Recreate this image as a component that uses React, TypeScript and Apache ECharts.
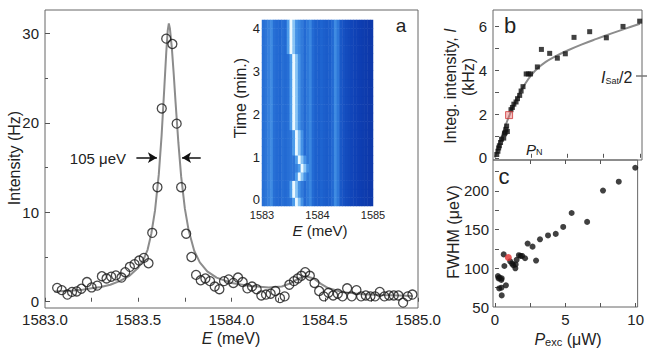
import React, { useEffect, useRef } from "react";
import * as echarts from "echarts";

const FONT = '"Liberation Sans", Arial, Helvetica, sans-serif';

// ---- Panel a: PL spectrum ----
const spectrumEnergy = [1583.065,1583.09,1583.12,1583.145,1583.17,1583.195,1583.225,1583.25,1583.28,1583.305,1583.33,1583.355,1583.38,1583.41,1583.43,1583.455,1583.48,1583.505,1583.53,1583.555,1583.575,1583.603,1583.626,1583.65,1583.683,1583.706,1583.73,1583.757,1583.785,1583.81,1583.835,1583.86,1583.885,1583.91,1583.935,1583.96,1583.985,1584.01,1584.035,1584.06,1584.085,1584.11,1584.135,1584.16,1584.185,1584.21,1584.235,1584.26,1584.285,1584.31,1584.335,1584.355,1584.375,1584.395,1584.42,1584.445,1584.47,1584.495,1584.52,1584.545,1584.57,1584.595,1584.62,1584.645,1584.67,1584.695,1584.72,1584.745,1584.77,1584.795,1584.82,1584.845,1584.87,1584.895,1584.92,1584.945,1584.97];
const spectrumIntensity = [1.55,1.3,0.8,1.1,1.15,1.45,2.2,1.6,1.8,2.85,2.6,2.8,2.95,2.7,3.3,3.9,4.2,4.6,4.9,4.3,7.7,12.8,21.6,29.4,28.8,19.9,12.8,7.6,5.0,3.0,2.4,2.6,2.3,1.7,1.4,2.3,2.5,2.1,2.7,2.2,1.5,1.7,1.4,0.7,0.8,0.9,1.2,0.4,0.6,1.9,2.3,2.6,2.9,3.3,2.9,2.1,1.2,0.6,1.0,0.7,0.9,0.6,1.5,0.6,1.3,0.6,0.7,0.6,0.6,1.1,0.6,0.7,0.7,0.7,-0.1,0.6,0.8];
const fitEnergy = [1583.05,1583.1,1583.15,1583.2,1583.25,1583.3,1583.35,1583.4,1583.45,1583.5,1583.53,1583.55,1583.57,1583.59,1583.61,1583.625,1583.64,1583.65,1583.658,1583.664,1583.67,1583.68,1583.69,1583.7,1583.715,1583.73,1583.75,1583.77,1583.8,1583.83,1583.87,1583.92,1584.0,1584.1,1584.2,1584.27,1584.32,1584.36,1584.4,1584.44,1584.48,1584.52,1584.6,1584.7,1584.8,1584.9,1584.97];
const fitIntensity = [1.15,1.2,1.25,1.35,1.5,1.65,1.9,2.3,2.85,3.8,4.8,5.8,7.6,10.2,14.2,18.5,24,27.8,30.3,31.1,30.5,28.4,25.5,22.3,17.8,14.0,10.4,8.0,5.7,4.4,3.4,2.7,2.1,1.75,1.6,1.7,2.1,2.6,2.85,2.6,2.0,1.5,1.05,0.85,0.75,0.7,0.65];
const fwhmArrowLeft = [1583.49, 1583.60];
const fwhmArrowRight = [1583.835, 1583.735];
const fwhmArrowLevel = 16.1;
const aXTicks = [1583,1583.25,1583.5,1583.75,1584,1584.25,1584.5,1584.75,1585];
const aXLabels = [1583,1583.5,1584,1584.5,1585];
const aYLabels = [0,10,20,30];
const aYMinor = [5,15,25];

// ---- Inset: time trace map ----
const heatColumnLevel = [0.44,0.46,0.5,0.54,0.44,0.42,0.41,0.44,0.42,0.44,0.46,0.46,0.5,0.52,0.48,0.42,0.47,0.52,0.42,0.38,0.37,0.4,0.37,0.35,0.37,0.42,0.54,0.47,0.33,0.29,0.26,0.24,0.22,0.2,0.18,0.16,0.14,0.12,0.1,0.1];
const heatLinePos = [1583.61,1583.6,1583.57,1583.66,1583.7,1583.66,1583.64,1583.62,1583.62,1583.6,1583.6,1583.58,1583.58,1583.58,1583.57,1583.59,1583.56,1583.56,1583.55,1583.55,1583.54,1583.54];
const heatEStart = 1583, heatEStep = 0.05;
const insetXLabels = [1583,1584,1585];
const insetYLabels = [0,1,2,3,4];

// ---- Panel b: integrated intensity ----
const powerB = [0.12,0.2,0.25,0.3,0.38,0.45,0.6,0.65,0.7,0.75,0.8,0.85,1.1,1.2,1.3,1.45,1.55,1.7,1.8,1.93,2.15,2.3,2.45,2.92,3.2,3.77,4.3,4.85,5.45,6.53,7.68,8.83,9.98];
const intensityB = [0.15,0.3,0.45,0.55,0.7,0.85,0.9,1.1,1.15,1.3,1.45,1.2,2.2,2.3,2.45,2.55,2.7,2.85,3.05,3.25,3.83,3.83,3.83,4.15,4.95,4.77,4.55,4.75,5.5,5.76,5.48,6.0,6.24];
const fitPowerB = [0,0.25,0.5,0.75,1,1.5,2,2.5,3,3.5,4,5,6,7,8,9,10];
const fitIntensityB = [0,0.55,1.05,1.52,1.95,2.7,3.3,3.78,4.12,4.38,4.58,4.9,5.18,5.43,5.67,5.9,6.12];
const highlightB = [0.97, 1.95];

// ---- Panel c: FWHM ----
const powerC = [0.21,0.25,0.3,0.32,0.45,0.46,0.48,0.48,0.62,0.67,0.78,1.08,1.22,1.3,1.45,1.47,1.54,1.7,1.82,1.93,2.14,2.32,2.67,2.92,3.2,3.77,4.32,4.85,5.45,6.55,7.68,8.8,9.97];
const fwhmC = [90,87,74,88,85,75,65,87,118,103,78,109,106,104,100,105,111,117,116,116,113,132,128,110,137.5,142.5,144.5,153.5,171.5,160,200.5,212,230];
const highlightC = [0.95, 114];

const zip = (a: number[], b: number[]) => a.slice(0, Math.min(a.length, b.length)).map((v, i) => [v, b[i]]);

const heatData: number[][] = [];
heatLinePos.forEach((pos, r) => {
  const lineCol = Math.floor((pos - heatEStart) / heatEStep);
  heatColumnLevel.forEach((lv, c) => {
    let v = lv;
    if (c === lineCol) v = 0.97;
    else if (c === lineCol + 1) v = Math.max(v, 0.72);
    else if (c === lineCol - 1) v = Math.max(v, 0.6);
    else if (c === lineCol + 2) v = Math.max(v, 0.56);
    heatData.push([c, r, v]);
  });
});

const tickColor = "#555";
const frame = { show: true, borderColor: "#666", borderWidth: 1, backgroundColor: "transparent" };
const lbl = (size: number) => ({ color: "#222", fontSize: size, fontFamily: FONT });

const txt = (x: number, y: number, text: string, size: number, extra: any = {}, rich?: any) => ({
  type: "text",
  x, y,
  rotation: extra.rotation || 0,
  style: {
    text,
    fontSize: size,
    fontFamily: FONT,
    fill: "#222",
    align: extra.align || "center",
    verticalAlign: "middle",
    rich,
  },
});

const richSub = (size: number, sub: number) => ({
  i: { fontSize: size, fontFamily: FONT, fontStyle: "italic", fill: "#222", verticalAlign: "bottom", lineHeight: size + 2 },
  s: { fontSize: sub, fontFamily: FONT, fill: "#222", verticalAlign: "bottom", lineHeight: sub + 1 },
  n: { fontSize: size, fontFamily: FONT, fill: "#222", verticalAlign: "bottom", lineHeight: size + 2 },
});

const option: any = {
  animation: false,
  backgroundColor: "#fff",
  grid: [
    { left: 45, top: 10, width: 373, height: 298, ...frame },
    { left: 262, top: 20, width: 111, height: 186, show: false },
    { left: 262, top: 20, width: 111, height: 186, show: false },
    { left: 493, top: 10, width: 149, height: 150, ...frame },
    { left: 493, top: 160, width: 149, height: 147, ...frame },
  ],
  xAxis: [
    {
      gridIndex: 0, type: "value", min: 1583, max: 1585,
      axisLine: { show: false }, splitLine: { show: false },
      axisTick: { show: true, inside: true, length: 4, lineStyle: { color: tickColor }, customValues: aXTicks },
      axisLabel: { ...lbl(15), margin: 4, customValues: aXLabels, showMinLabel: true, showMaxLabel: true, formatter: (v: number) => v.toFixed(1) },
    },
    { gridIndex: 1, type: "category", data: heatColumnLevel.map((_, i) => String(i)), show: false },
    {
      gridIndex: 2, type: "value", min: 1583, max: 1585,
      axisLine: { show: false }, splitLine: { show: false }, axisTick: { show: false },
      axisLabel: { ...lbl(11), margin: 3, customValues: insetXLabels, showMinLabel: true, showMaxLabel: true, formatter: (v: number) => String(v) },
    },
    {
      gridIndex: 3, type: "value", min: -0.14, max: 10.14,
      axisLine: { show: false }, splitLine: { show: false },
      axisTick: { show: true, inside: true, length: 4, lineStyle: { color: tickColor }, customValues: [2.5, 5, 7.5, 10] },
      axisLabel: { show: false },
    },
    {
      gridIndex: 4, type: "value", min: -0.14, max: 10.14, position: "bottom",
      axisLine: { show: false }, splitLine: { show: false },
      axisTick: { show: true, inside: true, length: 4, lineStyle: { color: tickColor }, customValues: [0, 2.5, 5, 7.5, 10] },
      axisLabel: { ...lbl(15), margin: 5, customValues: [0, 5, 10], showMinLabel: true, showMaxLabel: true },
    },
    {
      gridIndex: 4, type: "value", min: -0.14, max: 10.14, position: "top",
      axisLine: { show: false }, splitLine: { show: false },
      axisTick: { show: true, inside: true, length: 4, lineStyle: { color: tickColor }, customValues: [2.5, 5, 7.5] },
      axisLabel: { show: false },
    },
  ],
  yAxis: [
    {
      gridIndex: 0, type: "value", min: -0.7, max: 32.6,
      axisLine: { show: false }, splitLine: { show: false },
      axisTick: { show: true, inside: true, length: 5, lineStyle: { color: tickColor }, customValues: aYLabels },
      axisLabel: { ...lbl(15), margin: 6, customValues: aYLabels },
    },
    {
      gridIndex: 0, type: "value", min: -0.7, max: 32.6, position: "left",
      axisLine: { show: false }, splitLine: { show: false },
      axisTick: { show: true, inside: true, length: 3, lineStyle: { color: tickColor }, customValues: aYMinor },
      axisLabel: { show: false },
    },
    { gridIndex: 1, type: "category", data: heatLinePos.map((_, i) => String(i)), show: false },
    {
      gridIndex: 2, type: "value", min: -0.14, max: 4.19,
      axisLine: { show: false }, splitLine: { show: false }, axisTick: { show: false },
      axisLabel: { ...lbl(13), margin: 2, customValues: insetYLabels },
    },
    {
      gridIndex: 3, type: "value", min: -0.1, max: 6.75,
      axisLine: { show: false }, splitLine: { show: false },
      axisTick: { show: true, inside: true, length: 4, lineStyle: { color: tickColor }, customValues: [0, 1, 2, 3, 4, 5, 6] },
      axisLabel: { ...lbl(15), margin: 6, customValues: [0, 2, 4, 6] },
    },
    {
      gridIndex: 4, type: "value", min: 50, max: 240,
      axisLine: { show: false }, splitLine: { show: false },
      axisTick: { show: true, inside: true, length: 4, lineStyle: { color: tickColor }, customValues: [75, 100, 125, 150, 175, 200, 225] },
      axisLabel: { ...lbl(15), margin: 4, customValues: [50, 100, 150, 200] },
    },
  ],
  visualMap: {
    show: false, type: "continuous", seriesIndex: 2, min: 0, max: 1, dimension: 2,
    inRange: { color: ["#0a30a0", "#0f42b6", "#1e64d0", "#4d9cea", "#b0defc", "#f4fcff"] },
  },
  series: [
    {
      type: "line", xAxisIndex: 0, yAxisIndex: 0, data: zip(fitEnergy, fitIntensity),
      showSymbol: false, symbol: "none", lineStyle: { color: "#8c8c8c", width: 2 }, z: 1, silent: true,
      markLine: {
        silent: true, symbol: ["none", "arrow"], symbolSize: [8, 9],
        lineStyle: { color: "#111", width: 1.5, type: "solid" }, label: { show: false },
        data: [
          [{ coord: [fwhmArrowLeft[0], fwhmArrowLevel] }, { coord: [fwhmArrowLeft[1], fwhmArrowLevel] }],
          [{ coord: [fwhmArrowRight[0], fwhmArrowLevel] }, { coord: [fwhmArrowRight[1], fwhmArrowLevel] }],
        ],
      },
    },
    {
      type: "scatter", xAxisIndex: 0, yAxisIndex: 0, data: zip(spectrumEnergy, spectrumIntensity),
      symbol: "circle", symbolSize: 9,
      itemStyle: { color: "rgba(0,0,0,0)", borderColor: "#1a1a1a", borderWidth: 1.3 }, z: 2,
    },
    {
      type: "heatmap", xAxisIndex: 1, yAxisIndex: 2, data: heatData, itemStyle: { borderWidth: 0 }, z: 3,
    },
    {
      type: "line", xAxisIndex: 3, yAxisIndex: 4, data: zip(fitPowerB, fitIntensityB), smooth: 0.4,
      showSymbol: false, symbol: "none", lineStyle: { color: "#8c8c8c", width: 2 }, z: 1,
    },
    {
      type: "scatter", xAxisIndex: 3, yAxisIndex: 4, data: zip(powerB, intensityB),
      symbol: "rect", symbolSize: 5, itemStyle: { color: "#111" }, z: 2,
    },
    {
      type: "scatter", xAxisIndex: 3, yAxisIndex: 4, data: [highlightB],
      symbol: "rect", symbolSize: 7, itemStyle: { color: "rgba(235,110,110,0.55)", borderColor: "#d03a3a", borderWidth: 1 }, z: 3,
    },
    {
      type: "scatter", xAxisIndex: 4, yAxisIndex: 5, data: zip(powerC, fwhmC),
      symbol: "circle", symbolSize: 6, itemStyle: { color: "#111" }, z: 2,
    },
    {
      type: "scatter", xAxisIndex: 4, yAxisIndex: 5, data: [highlightC],
      symbol: "circle", symbolSize: 7, itemStyle: { color: "#e03030" }, z: 3,
    },
  ],
  graphic: [
    txt(126, 158, "105 μeV", 15, { align: "right" }),
    txt(401, 25, "a", 19),
    txt(510, 25, "b", 22),
    txt(504, 176, "c", 22),
    txt(14, 158, "Intensity (Hz)", 16, { rotation: Math.PI / 2 }),
    txt(231, 337, "{i|E}{n| (meV)}", 16, {}, richSub(16, 11)),
    txt(240, 98, "Time (min.)", 16, { rotation: Math.PI / 2 }),
    txt(320, 229, "{i|E}{n| (meV)}", 15, {}, richSub(15, 10)),
    txt(449, 86, "{n|Integ. intensity, }{i|I}", 16, { rotation: Math.PI / 2 }, richSub(16, 11)),
    txt(468, 77, "(kHz)", 16, { rotation: Math.PI / 2 }),
    txt(453, 232, "FWHM (μeV)", 16, { rotation: Math.PI / 2 }),
    txt(568, 338, "{i|P}{s|exc}{n| (μW)}", 16, {}, richSub(16, 11)),
    txt(601, 76, "{i|I}{s|Sat}{n|/2}", 16, { align: "left" }, richSub(16, 9)),
    txt(526, 148, "{i|P}{s|N}", 15, { align: "left" }, richSub(15, 9)),
    { type: "line", shape: { x1: 636, y1: 76, x2: 647, y2: 76 }, style: { stroke: "#777", lineWidth: 1.5 } },
  ],
};

export default function App() {
  const ref = useRef<HTMLDivElement>(null);
  useEffect(() => {
    if (!ref.current) return;
    const chart = echarts.init(ref.current, null, { renderer: "svg" });
    chart.setOption(option);
    return () => chart.dispose();
  }, []);
  return <div ref={ref} style={{ position: "fixed", left: 0, top: 0, width: 647, height: 348 }} />;
}
